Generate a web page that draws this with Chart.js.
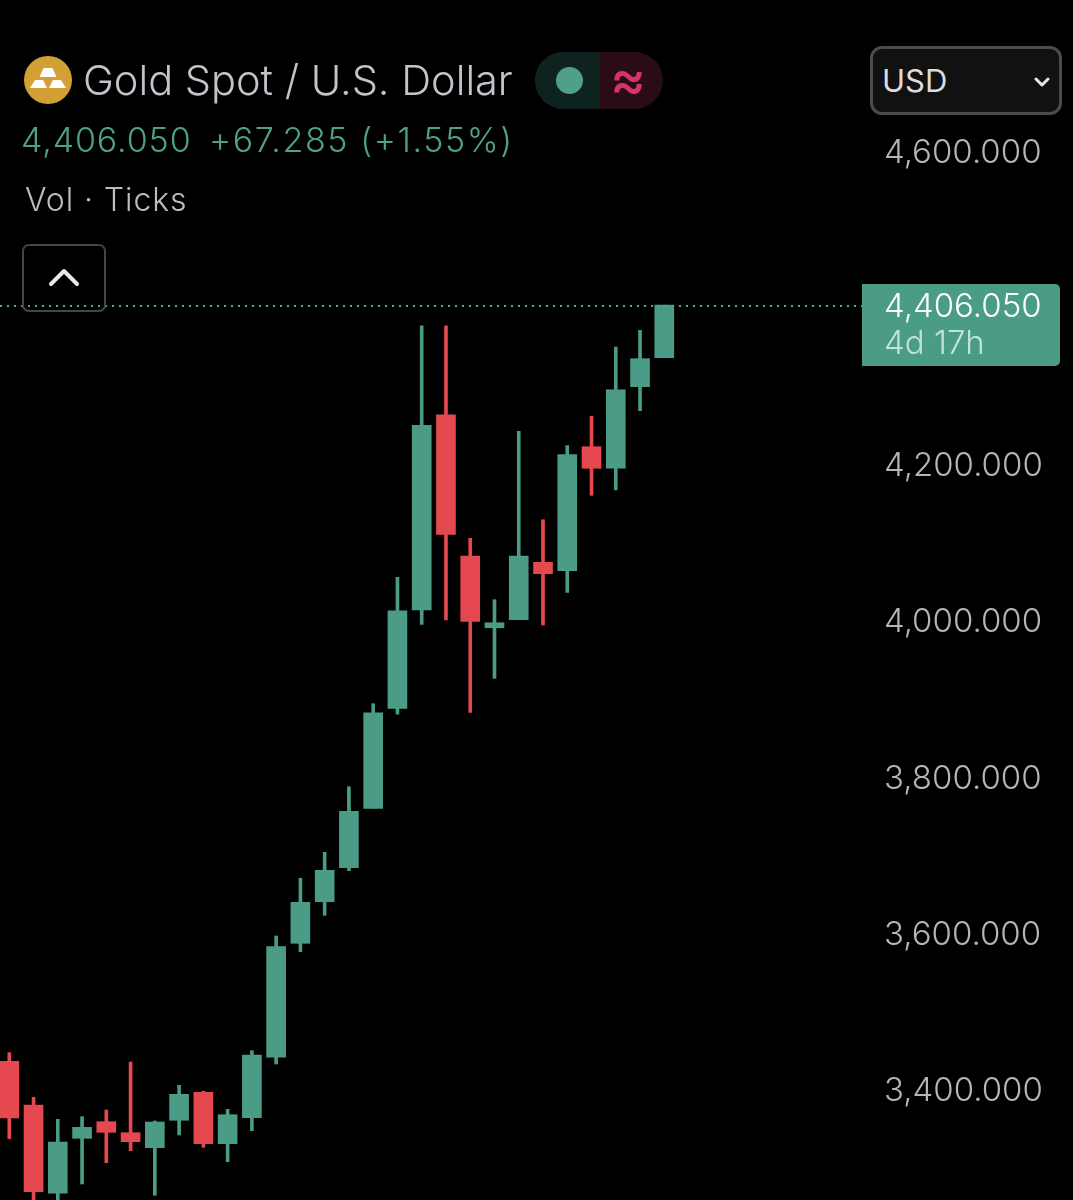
<!DOCTYPE html>
<html>
<head>
<meta charset="utf-8">
<title>Gold Spot / U.S. Dollar</title>
<script src="https://cdn.jsdelivr.net/npm/chart.js@4"></script>
<style>
  html, body { margin: 0; padding: 0; background: #000; }
  #wrap { position: relative; width: 1073px; height: 1200px; overflow: hidden; font-family: Inter, sans-serif; }
  canvas { position: absolute; left: 0; top: 0; }
  .txt { position: absolute; white-space: pre; line-height: 1; }
  #title { left: 83px; top: 60px; font-size: 41.5px; font-weight: 300; color: #c3c3cb; }
  #price { left: 21px; top: 123px; font-size: 34px; font-weight: 300; letter-spacing: 0.9px; color: #4f9f8a; }
  #change { left: 209px; top: 123px; font-size: 34px; font-weight: 300; letter-spacing: 1.6px; color: #4f9f8a; }
  #sub { left: 25px; top: 184px; font-size: 32px; font-weight: 300; letter-spacing: 0.9px; color: #bcbcc2; }
  #coin { position: absolute; left: 24px; top: 56px; }
  #pill { position: absolute; left: 535px; top: 52px; width: 128px; height: 57px; border-radius: 29px; overflow: hidden; background: #2a0c16; }
  #pill .left { position: absolute; left: 0; top: 0; width: 65px; height: 57px; background: #0e2320; }
  #pill .dot { position: absolute; left: 21px; top: 15px; width: 27px; height: 27px; border-radius: 50%; background: #4f9f8a; }
  #pill .wave { position: absolute; left: 75px; top: 0; font-size: 54px; font-weight: 500; color: #d6336c; }
  #usd { position: absolute; left: 870px; top: 46px; width: 186px; height: 63px; border: 3px solid #4b4b4b; border-radius: 12px; background: #111; }
  #usd span { left: 9px; top: 16px; font-size: 31px; color: #dcdcdc; }
  #usd svg { position: absolute; left: 161px; top: 28px; }
  #up { position: absolute; left: 22px; top: 244px; width: 80px; height: 64px; border: 2px solid #454545; border-radius: 7px; }
  #up svg { position: absolute; left: 24px; top: 21px; }
</style>
</head>
<body>
<div id="wrap">
  <canvas id="chart" width="1073" height="1200"></canvas>
  <svg id="coin" width="48" height="48" viewBox="0 0 48 48">
    <circle cx="24" cy="24" r="24" fill="#d3a035"/>
    <path d="M19.5 12h9l4 9H15.5z M11 24h8l4 8H6z M29 24h8l5 8H25z" fill="#fff"/>
  </svg>
  <div class="txt" id="title">Gold Spot / U.S. Dollar</div>
  <div id="pill"><div class="left"></div><div class="dot"></div><div class="txt wave">≈</div></div>
  <div class="txt" id="price">4,406.050</div>
  <div class="txt" id="change">+67.285 (+1.55%)</div>
  <div class="txt" id="sub">Vol · Ticks</div>
  <div id="up"><svg width="32" height="20" viewBox="0 0 32 20"><path d="M3 17L16 4l13 13" fill="none" stroke="#e8e8e8" stroke-width="4" stroke-linecap="round" stroke-linejoin="round"/></svg></div>
  <div id="usd"><span class="txt">USD</span><svg width="16" height="10" viewBox="0 0 16 10"><path d="M2 2l6 6 6-6" fill="none" stroke="#e8e8e8" stroke-width="3" stroke-linecap="round" stroke-linejoin="round"/></svg></div>
</div>
<script>
// candles, oldest first
const opens = [3438.6, 3382.7, 3269.8, 3340.1, 3361.4, 3347.3, 3328.1, 3363.2, 3399.0, 3333.2, 3366.5, 3443.8, 3589.6, 3642.8, 3686.3, 3762.3, 3890.2, 4016.0, 4265.8, 4085.1, 3993.3, 4003.6, 4077.0, 4066.3, 4224.9, 4197.3, 4301.7, 4338.765];
const highs = [3449.7, 3392.6, 3364.4, 3367.8, 3376.3, 3437.7, 3362.3, 3407.9, 3400.3, 3377.2, 3452.2, 3598.9, 3672.8, 3706.0, 3789.9, 3896.1, 4057.8, 4379.7, 4379.7, 4107.7, 4029.2, 4244.6, 4131.5, 4226.2, 4263.8, 4352.4, 4373.8, 4406.05];
const lows = [3339.6, 3254.8, 3257.4, 3281.7, 3308.9, 3324.3, 3267.2, 3344.4, 3328.6, 3310.2, 3349.9, 3435.2, 3578.9, 3625.4, 3682.5, 3762.3, 3882.6, 3997.7, 4003.2, 3885.1, 3928.6, 4003.6, 3996.8, 4038.6, 4162.7, 4169.5, 4271.0, 4338.765];
const closes = [3366.1, 3271.8, 3335.4, 3354.2, 3347.8, 3335.8, 3361.0, 3396.4, 3333.2, 3370.3, 3446.7, 3585.3, 3642.0, 3683.0, 3758.5, 3884.6, 4015.1, 4252.3, 4112.8, 4001.5, 3999.7, 4085.1, 4062.4, 4214.7, 4197.3, 4297.8, 4337.5, 4406.05];
const tickValues = [4600, 4200, 4000, 3800, 3600, 3400];
const lastPrice = 4406.05;
const countdown = "4d 17h";

const UP = "#4a9c86";
const DOWN = "#e5484f";
const colors = opens.map((o, i) => (closes[i] >= o ? UP : DOWN));
const money = (v) => v.toLocaleString("en-US", { minimumFractionDigits: 3, maximumFractionDigits: 3 });

// dotted last price line and the tag on the price axis
const priceTag = {
  id: "priceTag",
  afterDatasetsDraw(chart) {
    const { ctx, chartArea, scales } = chart;
    const y = Math.round(scales.y.getPixelForValue(lastPrice)) + 1;
    ctx.save();
    ctx.strokeStyle = "#5aa593";
    ctx.lineWidth = 2;
    ctx.setLineDash([2, 5]);
    ctx.beginPath();
    ctx.moveTo(0, y);
    ctx.lineTo(chartArea.right, y);
    ctx.stroke();
    ctx.setLineDash([]);
    ctx.fillStyle = UP;
    ctx.beginPath();
    ctx.roundRect(chartArea.right, y - 22, 198, 82, [0, 5, 5, 0]);
    ctx.fill();
    ctx.textBaseline = "middle";
    ctx.font = "350 33px Inter";
    ctx.fillStyle = "#fff";
    ctx.fillText(money(lastPrice), 884, y + 1);
    ctx.fillStyle = "#c2e3da";
    ctx.fillText(countdown, 884, y + 38);
    ctx.restore();
  },
};

new Chart(document.getElementById("chart"), {
  type: "bar",
  data: {
    datasets: [
      {
        label: "Wick",
        data: opens.map((o, i) => ({ x: i, y: [lows[i], highs[i]] })),
        backgroundColor: colors,
        barThickness: 3,
        grouped: false,
      },
      {
        label: "Body",
        data: opens.map((o, i) => ({ x: i, y: [o, closes[i]] })),
        backgroundColor: colors,
        barThickness: 19,
        grouped: false,
      },
    ],
  },
  options: {
    responsive: false,
    animation: false,
    layout: { padding: 0 },
    plugins: { legend: { display: false }, tooltip: { enabled: false } },
    scales: {
      x: {
        type: "linear",
        display: false,
        offset: false,
        bounds: "data",
        min: -0.383,
        max: 35.15,
      },
      y: {
        position: "right",
        offset: false,
        bounds: "data",
        min: 3261.2,
        max: 4796.4,
        grid: { display: false, drawTicks: false },
        border: { display: false },
        afterBuildTicks(scale) {
          scale.ticks = tickValues.map((v) => ({ value: v }));
        },
        afterFit(scale) {
          // labels must not shrink the plot area, the candles run off the page
          scale.width = 211;
          scale.paddingTop = 0;
          scale.paddingBottom = 0;
        },
        ticks: {
          color: "#b4b5bb",
          padding: 22,
          font: { family: "Inter", size: 33, weight: "300" },
          autoSkip: false,
          callback: (v) => money(v),
        },
      },
    },
  },
  plugins: [priceTag],
});
</script>
</body>
</html>
